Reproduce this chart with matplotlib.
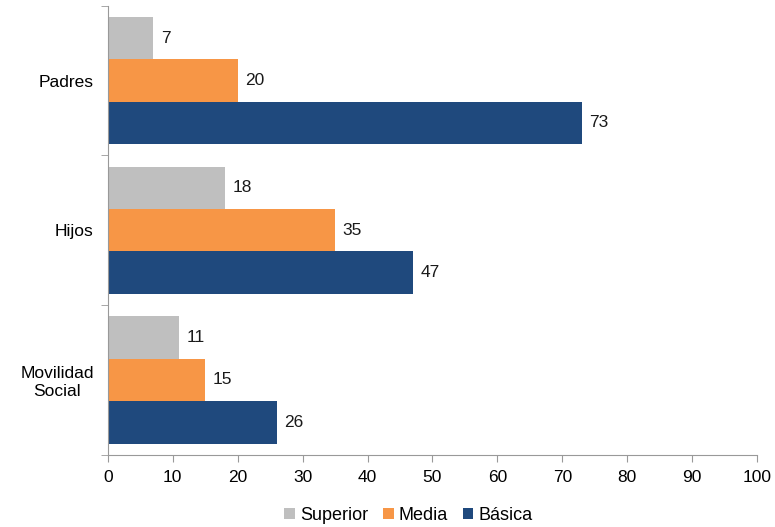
import numpy as np
import matplotlib.pyplot as plt

plt.rcParams['font.family'] = ['Liberation Sans', 'DejaVu Sans']

categories = ['Padres', 'Hijos', 'Movilidad\nSocial']
series = ['Superior', 'Media', 'Básica']
superior = [7, 18, 11]
media = [20, 35, 15]
basica = [73, 47, 26]
colors = ['#BFBFBF', '#F79646', '#1F497D']

fig = plt.figure(figsize=(7.75, 5.27), dpi=100)
ax = fig.add_axes([0.139, 0.137, 0.838, 0.852])

h = 0.283
y = np.arange(len(categories))
handles = []
for k, (vals, name, c) in enumerate(zip([superior, media, basica], series, colors)):
    pos = y + (k - 1) * h
    b = ax.barh(pos, vals, height=h, color=c, label=name)
    handles.append(b)
    for p, v in zip(pos, vals):
        ax.text(v + 1.2, p, str(v), va='center', ha='left', fontsize=12.5, color='#1a1a1a')

ax.set_xlim(0, 100)
ax.set_ylim(2.5, -0.5)
ax.set_xticks(range(0, 101, 10))
ax.set_yticks(y)
ax.set_yticklabels(categories, fontsize=12.5, multialignment='center')
ax.set_yticks([-0.5, 0.5, 1.5, 2.5], minor=True)
ax.tick_params(axis='y', which='major', length=0, pad=10)
ax.tick_params(axis='y', which='minor', length=5, color='#999999')
ax.tick_params(axis='x', length=5, color='#999999', labelsize=12.5, pad=6)

for s in ['top', 'right']:
    ax.spines[s].set_visible(False)
for s in ['left', 'bottom']:
    ax.spines[s].set_color('#999999')

fig.legend(handles=handles, labels=series, loc='lower center', ncol=3, frameon=False,
           fontsize=13, handlelength=0.6, handleheight=0.6, handletextpad=0.3,
           columnspacing=0.8, bbox_to_anchor=(0.527, -0.025))

fig.savefig('out.png', dpi=100)
